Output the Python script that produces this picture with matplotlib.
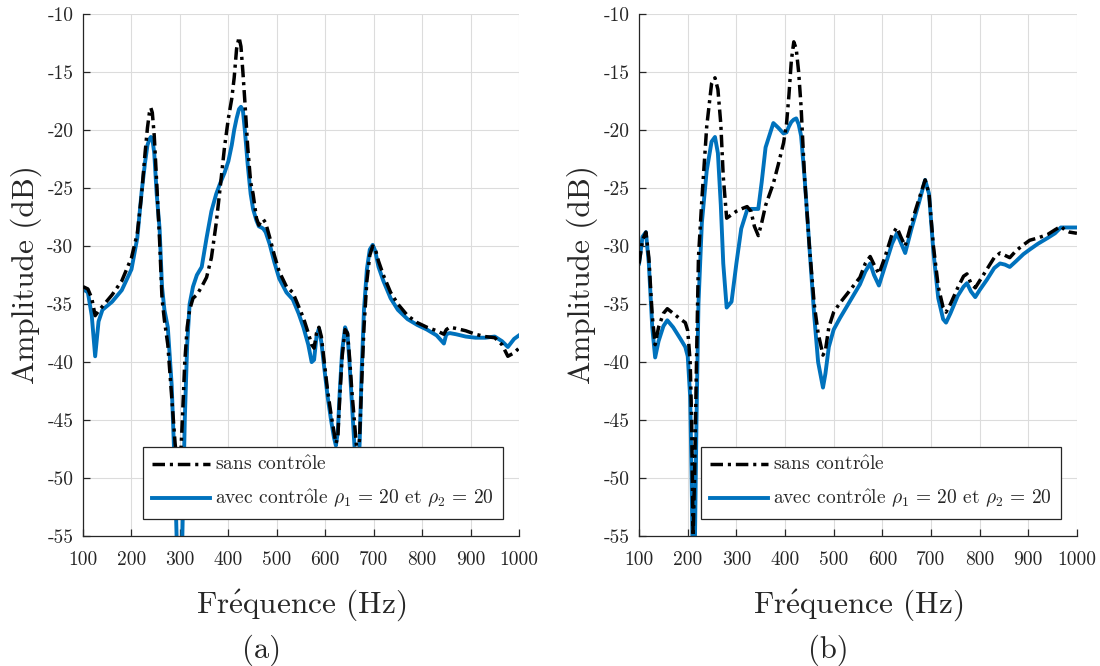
import matplotlib
matplotlib.use("Agg")
import matplotlib.pyplot as plt

plt.rcParams['font.family'] = ['cmr10', 'DejaVu Serif']
plt.rcParams['mathtext.fontset'] = 'cm'
plt.rcParams['axes.unicode_minus'] = False

# ---- data ----
freq_a = [100, 110, 118, 125, 132, 140, 160, 180, 200, 212, 221, 228, 233, 237, 240,
          243, 247, 252, 258, 263, 268, 275, 283, 290, 295, 300, 305, 310, 315, 320,
          327, 335, 345, 355, 365, 375, 383, 392, 400, 407, 412, 417, 422, 426, 430,
          434, 440, 446, 451, 458, 463, 468, 472, 477, 485, 495, 505, 520, 533, 545,
          555, 565, 572, 577, 582, 587, 592, 598, 605, 612, 618, 622, 626, 630, 635,
          641, 646, 650, 655, 660, 665, 668, 671, 675, 680, 686, 692, 698, 703, 710,
          720, 735, 750, 770, 790, 810, 830, 845, 850, 857, 870, 890, 910, 930, 950,
          965, 977, 990, 1000]
sans_a = [-33.5, -33.7, -34.5, -36.0, -35.6, -35.2, -34.2, -33.0, -31.0, -28.9, -25.5,
          -22.0, -19.8, -18.5, -18.1, -18.5, -20.5, -24.5, -29.5, -34.5, -36.4, -38.5,
          -43.0, -47.0, -49.0, -49.5, -45.0, -40.0, -37.0, -35.5, -34.5, -34.2, -33.5,
          -32.7, -31.0, -28.0, -25.0, -21.5, -19.0, -17.3, -15.5, -13.0, -12.0, -12.8,
          -15.0, -17.5, -21.5, -24.5, -25.5, -27.6, -28.2, -27.8, -27.7, -28.0, -29.2,
          -30.8, -32.2, -33.5, -34.0, -35.2, -36.2, -37.5, -38.5, -38.8, -37.5, -37.0,
          -37.8, -40.0, -42.5, -44.5, -46.0, -47.0, -46.5, -43.0, -39.5, -37.2, -37.5,
          -39.5, -42.5, -45.0, -47.5, -48.0, -46.5, -42.0, -37.0, -33.0, -30.8, -30.0,
          -30.2, -31.3, -32.5, -34.0, -35.0, -36.0, -36.6, -37.0, -37.3, -37.6, -37.2,
          -37.0, -37.1, -37.3, -37.6, -37.8, -37.9, -38.5, -39.5, -39.2, -38.8]
avec_a = [-33.7, -34.0, -36.0, -39.5, -36.5, -35.5, -34.8, -33.8, -32.0, -29.3, -25.3,
          -22.8, -21.3, -20.8, -20.6, -20.7, -22.0, -25.5, -28.5, -33.5, -35.5, -37.0,
          -42.0, -50.0, -58.0, -62.0, -55.0, -45.0, -38.5, -35.0, -33.5, -32.5, -31.8,
          -29.3, -27.0, -25.5, -24.6, -23.7, -22.7, -21.3, -20.0, -19.0, -18.2, -18.0,
          -18.3, -20.0, -23.0, -25.5, -26.8, -27.8, -28.3, -28.4, -28.5, -28.8, -29.8,
          -31.4, -32.8, -34.0, -34.6, -35.8, -37.0, -38.5, -40.0, -39.8, -37.8, -37.1,
          -38.3, -40.5, -43.0, -45.0, -46.5, -47.2, -46.0, -42.5, -39.0, -37.0, -37.6,
          -40.0, -43.5, -47.0, -50.0, -50.5, -47.0, -41.0, -35.5, -32.0, -30.3, -29.9,
          -30.4, -31.8, -33.0, -34.5, -35.5, -36.3, -36.8, -37.2, -37.7, -38.4, -37.6,
          -37.5, -37.6, -37.8, -37.9, -37.9, -37.8, -38.2, -38.7, -38.0, -37.7]

freq_b = [100, 107, 114, 120, 127, 133, 140, 150, 158, 170, 185, 195, 200, 205, 208,
          211, 214, 218, 222, 229, 239, 249, 256, 262, 268, 273, 280, 290, 300, 310,
          322, 330, 337, 345, 352, 360, 376, 386, 397, 403, 408, 413, 418, 423, 428,
          433, 440, 450, 460, 468, 478, 483, 490, 500, 513, 530, 554, 565, 575, 583,
          593, 605, 620, 630, 638, 647, 660, 675, 688, 696, 705, 715, 725, 731, 740,
          755, 767, 774, 782, 791, 800, 815, 830, 842, 852, 862, 875, 890, 903, 920,
          940, 955, 967, 975, 985, 1000]
sans_b = [-31.5, -29.5, -28.8, -31.0, -36.0, -38.5, -37.0, -35.8, -35.4, -35.8, -36.3,
          -36.6, -37.3, -40.0, -45.0, -55.0, -50.0, -40.0, -31.0, -26.0, -19.7, -16.0,
          -15.5, -16.5, -19.5, -24.0, -27.6, -27.3, -27.0, -26.8, -26.6, -27.0, -28.3,
          -29.1, -28.0, -26.5, -24.6, -23.0, -21.1, -19.5, -17.0, -14.0, -12.4, -13.0,
          -15.0, -18.0, -24.0, -30.0, -35.0, -37.5, -39.4, -39.0, -37.0, -35.7, -34.9,
          -34.0, -32.7, -31.5, -30.9, -31.6, -32.4, -31.0, -29.0, -28.4, -29.2, -30.0,
          -28.0, -26.0, -24.3, -25.5, -30.0, -33.5, -35.3, -35.7, -35.0, -33.6, -32.6,
          -32.4, -33.2, -33.6, -33.0, -32.0, -31.0, -30.6, -30.8, -31.0, -30.4, -29.9,
          -29.5, -29.3, -29.0, -28.6, -28.3, -28.6, -28.8, -28.9]
avec_b = [-31.5, -29.2, -28.8, -31.5, -37.0, -39.6, -38.2, -36.9, -36.4, -37.0, -38.0,
          -38.7, -39.5, -43.0, -50.0, -60.0, -58.0, -45.0, -35.0, -28.0, -23.5, -21.0,
          -20.6, -22.0, -26.5, -31.5, -35.3, -34.8, -31.5, -28.5, -26.9, -26.8, -26.8,
          -26.8, -24.5, -21.5, -19.4, -19.8, -20.3, -20.2, -19.7, -19.3, -19.1, -19.0,
          -19.5, -20.5, -24.0, -30.0, -36.0, -40.0, -42.2, -41.0, -38.7, -37.2, -36.2,
          -35.0, -33.3, -32.2, -31.5, -32.5, -33.4, -31.8, -29.8, -28.9, -29.7, -30.6,
          -28.5, -26.3, -24.3, -25.5, -30.5, -34.5, -36.3, -36.6, -35.8, -34.3, -33.5,
          -33.2, -33.9, -34.4, -33.8, -32.9, -31.9, -31.5, -31.6, -31.8, -31.3, -30.7,
          -30.3, -29.8, -29.3, -28.9, -28.4, -28.4, -28.4, -28.4]

x_ticks = [100, 200, 300, 400, 500, 600, 700, 800, 900, 1000]
y_ticks = [-55, -50, -45, -40, -35, -30, -25, -20, -15, -10]
panels = ['(a)', '(b)']

label_sans = r'sans contr$\hat{\mathrm{o}}$le'
label_avec = r'avec contr$\hat{\mathrm{o}}$le $\rho_1\,=\,20$ et $\rho_2\,=\,20$'

dark = '#262626'
blue = '#0072BD'


def setup_axes(ax):
    ax.set_xlim(100, 1000)
    ax.set_ylim(-55, -10)
    ax.set_xticks(x_ticks)
    ax.set_yticks(y_ticks)
    ax.grid(True, color='#dcdcdc', linewidth=0.8)
    ax.set_axisbelow(True)
    for side in ['top', 'right']:
        ax.spines[side].set_visible(False)
    for side in ['left', 'bottom']:
        ax.spines[side].set_color(dark)
        ax.spines[side].set_linewidth(0.9)
    ax.tick_params(direction='in', length=5, width=0.9, color=dark,
                   labelcolor=dark, labelsize=14)
    ax.tick_params(axis='x', pad=11)
    ax.tick_params(axis='y', pad=7)
    ax.set_xlabel(r'Fr$\acute{\mathrm{e}}$quence (Hz)', fontsize=22.5, color=dark, labelpad=13)
    ax.set_ylabel('Amplitude (dB)', fontsize=22.5, color=dark, labelpad=4)


fig = plt.figure(figsize=(11, 6.66), dpi=100)
ax1 = fig.add_axes([0.0755, 0.195, 0.3963, 0.784])
ax2 = fig.add_axes([0.581, 0.195, 0.398, 0.784])

for ax, f, s, a in [(ax1, freq_a, sans_a, avec_a),
                    (ax2, freq_b, sans_b, avec_b)]:
    ax.plot(f, s, color='black', linewidth=2.5, linestyle=(0, (3.6, 1.4, 0.9, 1.4)),
            label=label_sans, zorder=3)
    ax.plot(f, a, color=blue, linewidth=2.8, label=label_avec, zorder=2)
    setup_axes(ax)
    leg = ax.legend(loc='lower right', bbox_to_anchor=(0.963, 0.033), borderaxespad=0,
                    fontsize=14, handlelength=3.0, handletextpad=0.25,
                    labelspacing=0.7, borderpad=0.45, fancybox=False, framealpha=1)
    leg.get_frame().set_edgecolor(dark)
    leg.get_frame().set_linewidth(0.9)
    for t in leg.get_texts():
        t.set_color(dark)
    leg.set_zorder(5)

# sub-figure tags, centred under each panel (label included)
fig.text(0.238, 0.024, panels[0], ha='center', va='center', fontsize=22, color=dark)
fig.text(0.753, 0.024, panels[1], ha='center', va='center', fontsize=22, color=dark)

fig.savefig('out.png', dpi=100)
